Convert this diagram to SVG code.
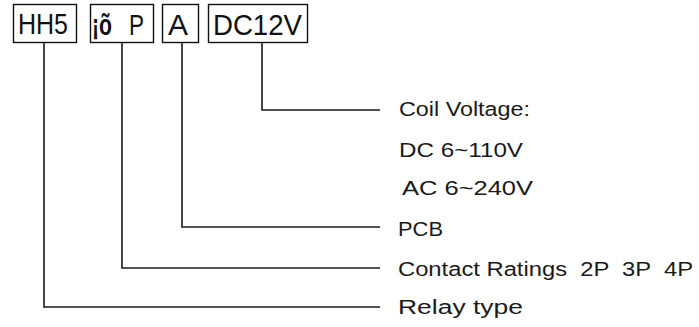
<svg xmlns="http://www.w3.org/2000/svg" width="699" height="327" viewBox="0 0 699 327">
<style>
.box{fill:none;stroke:#111;stroke-width:1.4}
.ln{fill:none;stroke:#1a1a1a;stroke-width:1.6}
.bt{font-family:"Liberation Sans",Arial,sans-serif;font-size:29px;fill:#111}
.lt{font-family:"Liberation Sans",Arial,sans-serif;font-size:20px;fill:#1a1a1a}
</style>
<rect width="699" height="327" fill="#fff"/>
<g id="node-hh5">
<rect class="box" x="13.5" y="4.5" width="63" height="38"/>
<text class="bt" x="18" y="34" textLength="50" lengthAdjust="spacingAndGlyphs">HH5</text>
</g>
<g id="node-poles">
<rect class="box" x="90.5" y="4.5" width="63" height="38"/>
<text class="bt" x="92" y="35" textLength="20" lengthAdjust="spacingAndGlyphs" font-weight="bold">¡õ</text>
<text class="bt" x="129" y="35" textLength="15" lengthAdjust="spacingAndGlyphs">P</text>
</g>
<g id="node-a">
<rect class="box" x="162.5" y="4.5" width="36" height="38"/>
<text class="bt" x="168" y="35" textLength="20" lengthAdjust="spacingAndGlyphs">A</text>
</g>
<g id="node-dc12v">
<rect class="box" x="208.5" y="4.5" width="99" height="38"/>
<text class="bt" x="213" y="35" textLength="89" lengthAdjust="spacingAndGlyphs">DC12V</text>
</g>
<g id="connectors">
<polyline class="ln" points="262,43 262,110 380,110"/>
<polyline class="ln" points="182,43 182,227 380,227"/>
<polyline class="ln" points="122,43 122,268 380,268"/>
<polyline class="ln" points="44,43 44,307 380,307"/>
</g>
<g id="labels">
<text class="lt" x="399" y="116" textLength="131" lengthAdjust="spacingAndGlyphs">Coil Voltage:</text>
<text class="lt" x="399" y="157" textLength="124" lengthAdjust="spacingAndGlyphs">DC 6~110V</text>
<text class="lt" x="402" y="195" textLength="131" lengthAdjust="spacingAndGlyphs">AC 6~240V</text>
<text class="lt" x="398" y="236" textLength="45" lengthAdjust="spacingAndGlyphs">PCB</text>
<text class="lt" x="398" y="276" textLength="295" lengthAdjust="spacingAndGlyphs" xml:space="preserve">Contact Ratings  2P  3P  4P</text>
<text class="lt" x="398" y="314" textLength="125" lengthAdjust="spacingAndGlyphs">Relay type</text>
</g>
</svg>
